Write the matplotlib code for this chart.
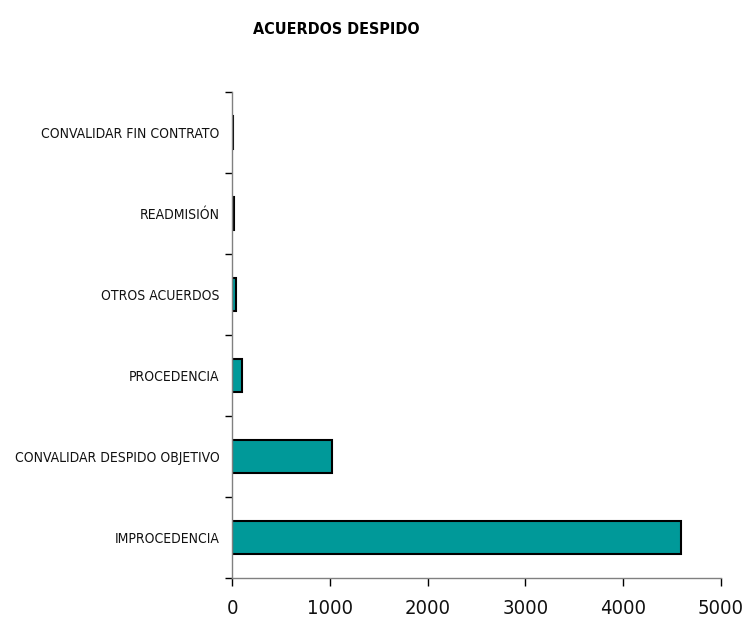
import matplotlib
matplotlib.use("Agg")
import matplotlib.pyplot as plt
import numpy as np

# datos
categorias = ['IMPROCEDENCIA', 'CONVALIDAR DESPIDO OBJETIVO', 'PROCEDENCIA',
              'OTROS ACUERDOS', 'READMISIÓN', 'CONVALIDAR FIN CONTRATO']
valores = [4590, 1020, 100, 40, 20, 8]
xticks = [0, 1000, 2000, 3000, 4000, 5000]

plt.rcParams['font.family'] = ['DejaVu Sans']
plt.rcParams['font.stretch'] = 'condensed'

fig = plt.figure(figsize=(7.44, 6.17), dpi=100)
ax = fig.add_axes([232/744, 1 - 578/617, (721-232)/744, (578-92)/617])

pos = np.arange(len(categorias))
ax.barh(pos, valores, height=0.4, color='#009999', edgecolor='black', linewidth=1.5)

ax.set_xlim(0, 5000)
ax.set_ylim(-0.5, len(categorias) - 0.5)
ax.set_xticks(xticks)
ax.set_xticklabels([str(t) for t in xticks], fontsize=14.5, color='#111111')
ax.set_yticks(pos)
ax.set_yticklabels(categorias, fontsize=10, color='#111111')
ax.set_yticks(np.arange(-0.5, len(categorias)), minor=True)
ax.tick_params(axis='y', which='major', length=0, pad=9)
ax.tick_params(axis='y', which='minor', length=5, width=1, color='black')
ax.tick_params(axis='x', length=6, width=1, color='black', pad=9)

for s in ['top', 'right']:
    ax.spines[s].set_visible(False)
for s in ['left', 'bottom']:
    ax.spines[s].set_color('#808080')
    ax.spines[s].set_linewidth(1)

fig.text(336/744, 1 - 30/617, 'ACUERDOS DESPIDO', ha='center', va='center',
         fontsize=11.5, fontweight='bold')

fig.savefig('out.png', dpi=100)
